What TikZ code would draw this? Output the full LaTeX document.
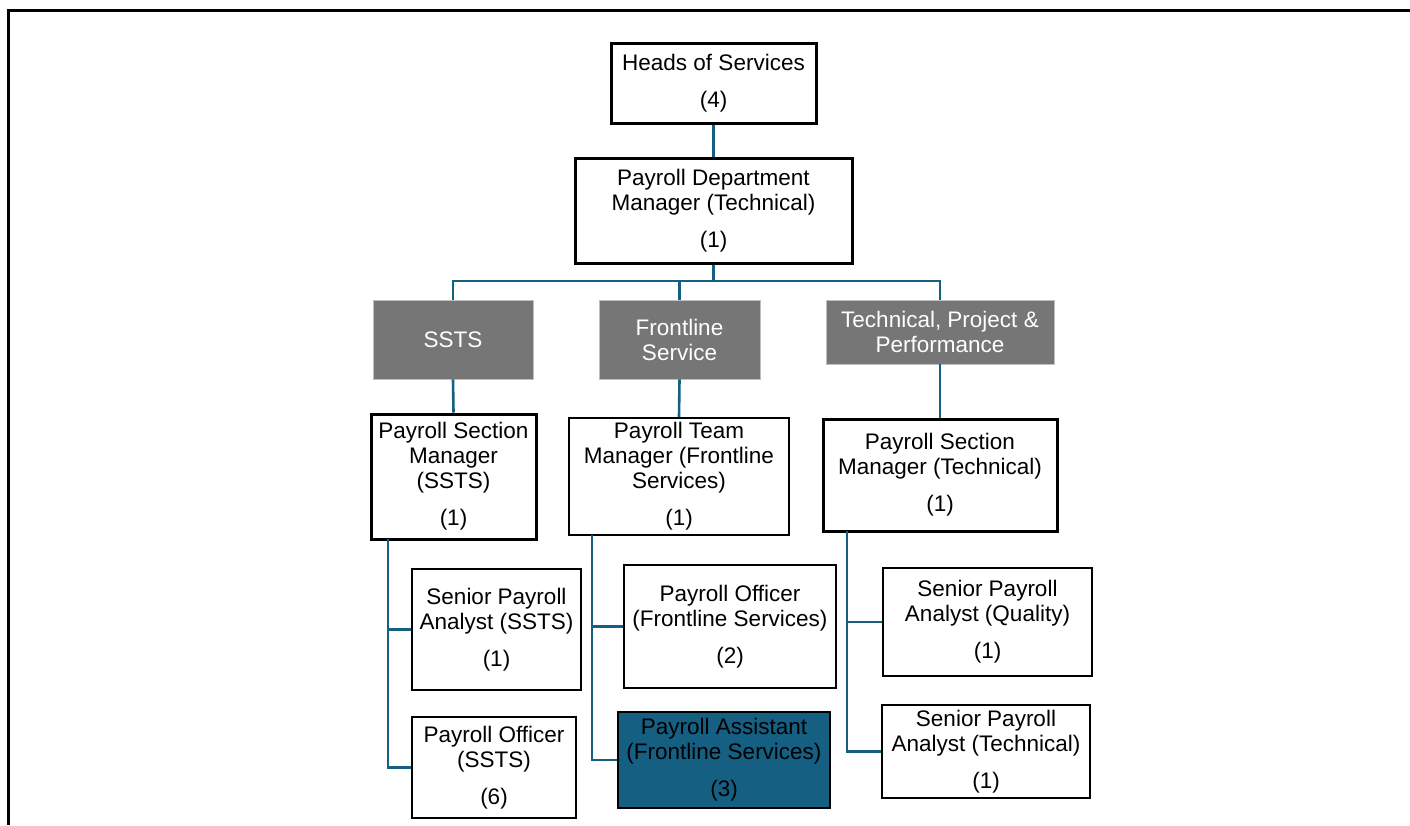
\documentclass[tikz,border=0pt]{standalone}
\usepackage{fontspec}
\setmainfont{Liberation Sans}
\definecolor{lineblue}{RGB}{21,96,130}
\definecolor{hdrgray}{RGB}{118,118,118}
\begin{document}
\begin{tikzpicture}[x=1pt,y=-1pt,
  box/.style={draw=black, line width=2pt, fill=white, inner sep=0pt, align=center, font=\fontsize{22.5}{25}\selectfont},
  boxb/.style={box, line width=3pt},
  hdr/.style={fill=hdrgray, draw=black!25, line width=0.6pt, text=white, inner sep=0pt, align=center, font=\fontsize{22.5}{25}\selectfont},
  conn/.style={draw=lineblue, line width=2.6pt}]
\useasboundingbox (0,0) rectangle (1410,825);
% frame
\draw[line width=3pt] (8,825) -- (8,10) -- (1410,10);
% nodes
\node[boxb, minimum width=205, minimum height=80] (heads) at (713.5,83) {Heads of Services\\[12pt](4)};
\node[boxb, minimum width=277, minimum height=105] (pdm) at (713.5,211) {Payroll Department\\Manager (Technical)\\[12pt](1)};
\node[hdr, minimum width=160, minimum height=79] (ssts) at (453,339.5) {SSTS};
\node[hdr, minimum width=161, minimum height=79] (fs) at (679.5,339.5) {Frontline\\Service};
\node[hdr, minimum width=228, minimum height=64] (tpp) at (940,332) {Technical, Project \&\\Performance};
\node[boxb, minimum width=165, minimum height=125] (psm) at (453.5,476.5) {Payroll Section\\Manager\\(SSTS)\\[12pt](1)};
\node[box, minimum width=220, minimum height=117] (ptm) at (679,476.5) {Payroll Team\\Manager (Frontline\\Services)\\[12pt](1)};
\node[boxb, minimum width=234, minimum height=112] (pst) at (940,475) {Payroll Section\\Manager (Technical)\\[12pt](1)};
\node[box, minimum width=169, minimum height=121] (spa) at (496.5,629.5) {Senior Payroll\\Analyst (SSTS)\\[12pt](1)};
\node[box, minimum width=164, minimum height=101] (pos) at (494,767.5) {Payroll Officer\\(SSTS)\\[12pt](6)};
\node[box, minimum width=212, minimum height=123] (pof) at (730,626.5) {Payroll Officer\\(Frontline Services)\\[12pt](2)};
\node[box, fill=lineblue, minimum width=212, minimum height=96] (pa) at (724,760) {Payroll Assistant\\(Frontline Services)\\[12pt](3)};
\node[box, minimum width=209, minimum height=108] (spq) at (987.5,622) {Senior Payroll\\Analyst (Quality)\\[12pt](1)};
\node[box, minimum width=208, minimum height=93] (spt) at (986,751.5) {Senior Payroll\\Analyst (Technical)\\[12pt](1)};
% coordinates
\coordinate (bus) at (713.5,281);
\coordinate (s1) at (388,539);
\coordinate (s2) at (592,535);
\coordinate (s3) at (847,531);
% connectors
\draw[conn] (heads.south) -- (pdm.north);
\draw[conn] (pdm.south) -- (bus);
\draw[conn] (ssts.north) |- (bus) -| (tpp.north);
\draw[conn] (fs.north) -- (fs.north |- bus);
\draw[conn] (ssts.south) -- (psm.north);
\draw[conn] (fs.south) -- (ptm.north);
\draw[conn] (tpp.south) -- (pst.north);
\draw[conn] (s1) |- (pos.west);
\draw[conn] (s1 |- spa.west) -- (spa.west);
\draw[conn] (s2) |- (pa.west);
\draw[conn] (s2 |- pof.west) -- (pof.west);
\draw[conn] (s3) |- (spt.west);
\draw[conn] (s3 |- spq.west) -- (spq.west);
\end{tikzpicture}
\end{document}
